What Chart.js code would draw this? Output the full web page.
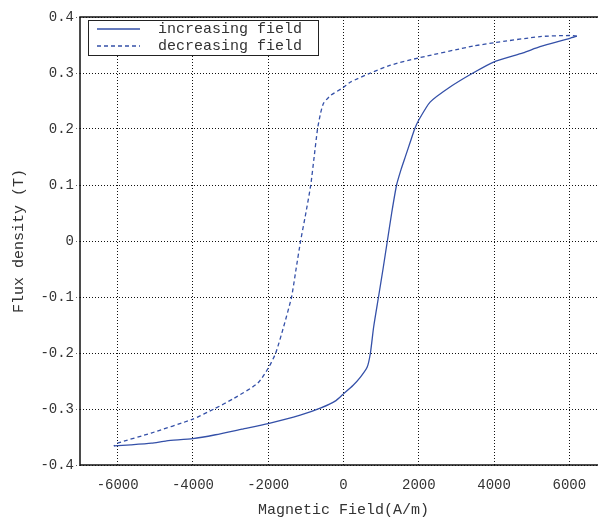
<!DOCTYPE html>
<html>
<head>
<meta charset="utf-8">
<script src="https://cdn.jsdelivr.net/npm/chart.js@4.4.0/dist/chart.umd.min.js"></script>
<style>
  html,body{margin:0;padding:0;background:#fff;overflow:hidden}
  #wrap{width:620px;height:517px}
</style>
</head>
<body>
<div id="wrap"><canvas id="hyst" width="620" height="517"></canvas></div>
<script>
// increasing field branch (A/m, T)
const incField = [-6100,-5650,-5100,-4700,-4000,-3400,-2700,-2000,-1150,-600,-200,0,250,450,630,715,800,930,1050,1165,1280,1410,1530,1650,1780,1890,2000,2300,2830,3440,4000,4770,5220,6010,6200]
const incFlux  = [-0.366,-0.364,-0.361,-0.357,-0.353,-0.346,-0.336,-0.326,-0.311,-0.298,-0.285,-0.273,-0.258,-0.243,-0.225,-0.2,-0.154,-0.1,-0.05,0,0.05,0.1,0.128,0.152,0.178,0.2,0.216,0.248,0.275,0.3,0.32,0.336,0.347,0.362,0.366]

// decreasing field branch
const decField = [6200,6000,5220,4000,3440,2000,1250,720,190,-30,-340,-530,-610,-690,-780,-870,-1000,-1140,-1260,-1380,-1590,-1800,-1990,-2280,-2910,-3440,-4000,-5110,-6000,-6100]
const decFlux  = [0.366,0.367,0.365,0.354,0.348,0.327,0.314,0.3,0.284,0.273,0.26,0.246,0.228,0.2,0.15,0.1,0.05,0,-0.05,-0.1,-0.153,-0.2,-0.226,-0.254,-0.281,-0.3,-0.318,-0.343,-0.361,-0.366]

const xTicks = [-6000,-4000,-2000,0,2000,4000,6000]
const yTicks = [-0.4,-0.3,-0.2,-0.1,0,0.1,0.2,0.3,0.4]

const MONO = "'Liberation Mono', 'DejaVu Sans Mono', monospace"
const BLUE = '#3450a8'

const pts = (xs, ys) => xs.map((x,i)=>({x, y: ys[i]}))

// frame + boxed legend
const framePlugin = {
  id: 'frame',
  afterDraw(c){
    const {ctx, chartArea:a} = c
    ctx.save()
    ctx.strokeStyle = '#111'
    ctx.lineWidth = 1.5
    ctx.strokeRect(a.left, a.top, a.right - a.left, a.bottom - a.top)

    const bx = 88, by = 20, bw = 230, bh = 35
    ctx.fillStyle = '#fff'
    ctx.fillRect(bx, by, bw, bh)
    ctx.lineWidth = 1
    ctx.strokeStyle = '#222'
    ctx.strokeRect(bx+0.5, by+0.5, bw, bh)
    ctx.font = '15px ' + MONO
    ctx.textBaseline = 'middle'
    c.data.datasets.forEach((ds, i) => {
      const y = by + 9 + i*17
      ctx.strokeStyle = ds.borderColor
      ctx.lineWidth = ds.borderWidth
      ctx.setLineDash(ds.borderDash || [])
      ctx.beginPath(); ctx.moveTo(97, y); ctx.lineTo(140, y); ctx.stroke()
      ctx.setLineDash([])
      ctx.fillStyle = '#333'
      ctx.fillText(ds.label, 158, y)
    })
    ctx.restore()
  }
}

new Chart(document.getElementById('hyst'), {
  type: 'scatter',
  data: {
    datasets: [
      {label:'increasing field', data: pts(incField, incFlux), showLine:true, borderColor:BLUE, borderWidth:1.3, pointRadius:0, tension:0.2},
      {label:'decreasing field', data: pts(decField, decFlux), showLine:true, borderColor:BLUE, borderWidth:1.3, borderDash:[4,3], pointRadius:0, tension:0.2}
    ]
  },
  options: {
    responsive:false,
    animation:false,
    layout:{padding:{top:17, right:13, left:0, bottom:0}},
    plugins:{legend:{display:false}, tooltip:{enabled:false}},
    scales:{
      x:{
        type:'linear', min:-7000, max:7000,
        afterBuildTicks: s => { s.ticks = xTicks.map(v=>({value:v})) },
        afterFit: s => { s.height = 52 },
        border:{display:false, dash:[1,2]},
        grid:{color:'#111', lineWidth:1, drawTicks:false},
        ticks:{color:'#333', font:{family:MONO, size:14}, padding:12, maxRotation:0,
          callback: v => String(v)},
        title:{display:true, text:'Magnetic Field(A/m)', color:'#333', font:{family:MONO, size:15}, padding:{top:0,bottom:-2}}
      },
      y:{
        type:'linear', min:-0.4, max:0.4,
        afterBuildTicks: s => { s.ticks = yTicks.map(v=>({value:v})) },
        afterFit: s => { s.width = 80 },
        border:{display:false, dash:[1,2]},
        grid:{color:'#111', lineWidth:1, tickLength:4, tickBorderDash:[1,2], tickColor:'#666'},
        ticks:{color:'#333', font:{family:MONO, size:14}, padding:2,
          callback: v => Number(v.toFixed(1)).toString()},
        title:{display:true, text:'Flux density (T)', color:'#333', font:{family:MONO, size:15}, padding:{top:10,bottom:0}}
      }
    }
  },
  plugins:[framePlugin]
})
</script>
</body>
</html>
